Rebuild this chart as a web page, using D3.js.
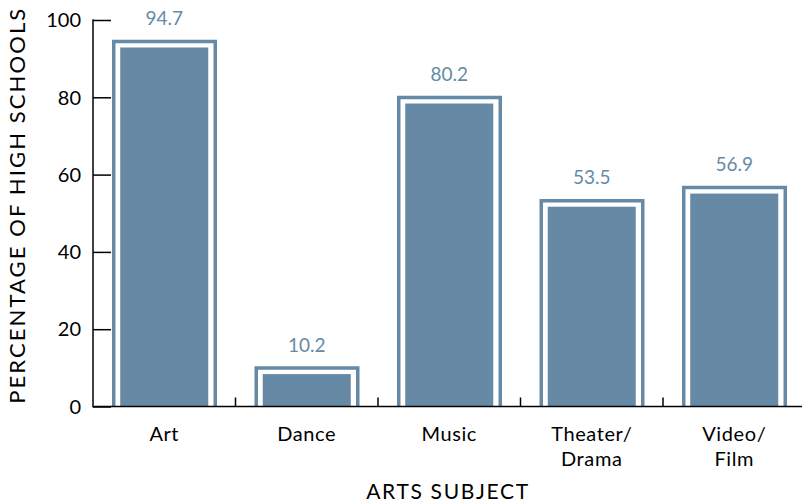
<!DOCTYPE html>
<html><head><meta charset="utf-8">
<script src="https://cdn.jsdelivr.net/npm/d3@7"></script>
<style>body{margin:0;background:#fff}svg{display:block}text{font-family:Lato,"Open Sans",sans-serif}</style>
</head><body>
<svg id="c" width="802" height="502"></svg>
<script>
const categories = ["Art", "Dance", "Music", "Theater/\nDrama", "Video/\nFilm"];
const values = [94.7, 10.2, 80.2, 53.5, 56.9];
const yTicks = [0, 20, 40, 60, 80, 100];
const xTitle = "ARTS SUBJECT";
const yTitle = "PERCENTAGE OF HIGH SCHOOLS";

(function(){
const svg = d3.select("#c");
const color = "#668aa5";
const mLeft = 93, mRight = 805.5, mTop = 20, mBottom = 406.5;

const x = d3.scaleBand().domain(categories).range([mLeft, mRight]).paddingInner(0.263).paddingOuter(0.1315);
const y = d3.scaleLinear().domain([0, 100]).range([mBottom, mTop]);

// bars
const g = svg.append("g");
categories.forEach((c, i) => {
  const v = values[i];
  const bx = x(c), bw = x.bandwidth();
  g.append("rect").attr("x", bx + 8.5).attr("width", bw - 17)
    .attr("y", y(v) + 7).attr("height", mBottom - (y(v) + 7)).attr("fill", color);
  g.append("path")
    .attr("d", `M${bx+2},${mBottom}V${y(v)+1}H${bx+bw-1.5}V${mBottom}`)
    .attr("fill", "none").attr("stroke", color).attr("stroke-width", 3.5);
  g.append("text").attr("x", bx + bw/2).attr("y", y(v) - 15.5)
    .attr("text-anchor", "middle").attr("fill", color).attr("font-size", 19).text(v.toFixed(1));
});

// y axis
const yAxis = svg.append("g").attr("transform", `translate(${mLeft},0)`)
  .call(d3.axisRight(y).tickValues(yTicks).tickSize(18).tickFormat(""));
yAxis.select(".domain").remove();
yAxis.selectAll("line").attr("stroke", "#000").attr("stroke-width", 1.5);
svg.append("line").attr("x1", mLeft).attr("x2", mLeft).attr("y1", mTop - 0.75).attr("y2", mBottom + 0.75)
  .attr("stroke", "#000").attr("stroke-width", 1.5);
svg.selectAll(".ylab").data(yTicks).join("text").attr("class", "ylab")
  .attr("x", 81).attr("y", d => y(d)).attr("dy", "0.36em").attr("text-anchor", "end")
  .attr("font-size", 20).attr("fill", "#000").text(d => d);

// x axis
svg.append("line").attr("x1", mLeft).attr("x2", mRight).attr("y1", mBottom).attr("y2", mBottom)
  .attr("stroke", "#000").attr("stroke-width", 1.5);
const step = x.step();
categories.slice(1).forEach(c => {
  const tx = x(c) - step * x.paddingInner() / 2;
  svg.append("line").attr("x1", tx).attr("x2", tx).attr("y1", mBottom).attr("y2", mBottom - 9)
    .attr("stroke", "#000").attr("stroke-width", 1.5);
});
categories.forEach(c => {
  const cx = x(c) + x.bandwidth()/2;
  const t = svg.append("text").attr("text-anchor", "middle").attr("font-size", 20)
    .attr("letter-spacing", 0.6).attr("fill", "#000");
  c.split("\n").forEach((line, j) => {
    t.append("tspan").attr("x", cx).attr("y", 440.5 + j*25.5).text(line);
  });
});

svg.append("text").attr("x", 448).attr("y", 499).attr("text-anchor", "middle")
  .attr("font-size", 21).attr("letter-spacing", 1.7).attr("fill", "#000").text(xTitle);
svg.append("text").attr("transform", `translate(25,${(mTop+mBottom)/2 - 8}) rotate(-90)`)
  .attr("text-anchor", "middle").attr("font-size", 22).attr("letter-spacing", 2.1).attr("fill", "#000").text(yTitle);
})();
</script>
</body></html>
